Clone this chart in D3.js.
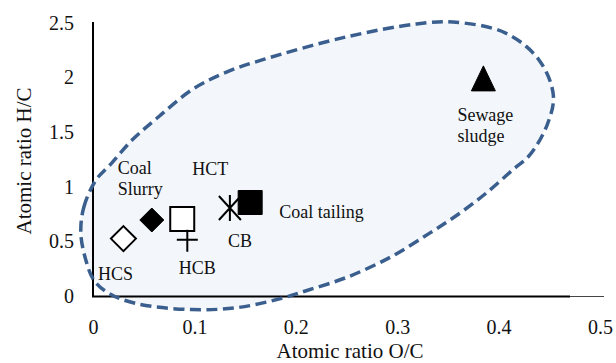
<!DOCTYPE html>
<html>
<head>
<meta charset="utf-8">
<script src="https://cdn.jsdelivr.net/npm/d3@7"></script>
<style>
  html, body { margin: 0; padding: 0; background: #fff; }
  svg { display: block; }
  text { font-family: "Liberation Serif", "Times New Roman", serif; fill: #111; }
</style>
</head>
<body>
<svg id="chart" width="616" height="363"></svg>
<script>
// ---- data ----
const samples = ["HCS", "Coal Slurry", "HCT", "HCB", "CB", "Coal tailing", "Sewage sludge"];
const ocRatio = [0.030, 0.058, 0.088, 0.093, 0.135, 0.155, 0.385];
const hcRatio = [0.52, 0.69, 0.70, 0.50, 0.80, 0.85, 1.98];
const markerKind = ["diamondOpen", "diamondFilled", "squareOpen", "plus", "asterisk", "squareFilled", "triangleFilled"];

const xTicks = [0, 0.1, 0.2, 0.3, 0.4, 0.5];
const yTicks = [0, 0.5, 1, 1.5, 2, 2.5];
const xTitle = "Atomic ratio O/C";
const yTitle = "Atomic ratio H/C";

// dashed grouping outline (estimated, data units)
const outlineOC = [-0.012, -0.009, 0.003, 0.016, 0.039, 0.065, 0.098, 0.131, 0.169, 0.249, 0.319, 0.355, 0.407, 0.440, 0.454, 0.448, 0.431, 0.414, 0.388, 0.362, 0.332, 0.293, 0.250, 0.211, 0.185, 0.143, 0.097, 0.043, 0.016, 0.001, -0.007];
const outlineHC = [0.570, 0.809, 1.057, 1.186, 1.425, 1.636, 1.884, 2.040, 2.160, 2.362, 2.482, 2.500, 2.399, 2.151, 1.829, 1.563, 1.287, 1.149, 0.938, 0.754, 0.570, 0.349, 0.165, 0.046, -0.028, -0.110, -0.129, -0.074, 0.018, 0.138, 0.322];

(function () {
// ---- layout ----
const svg = d3.select("#chart");
const mLeft = 93, mRight = 600, mTop = 22, mBottom = 295.5;
const x = d3.scaleLinear().domain([0, 0.5]).range([mLeft, mRight]);
const y = d3.scaleLinear().domain([0, 2.5]).range([mBottom, mTop]);

// outline ellipse
const outline = outlineOC.map((v, i) => [v, outlineHC[i]]);
const outlineLine = d3.line().x(d => x(d[0])).y(d => y(d[1])).curve(d3.curveCatmullRomClosed.alpha(0.5));
svg.append("path")
  .datum(outline)
  .attr("d", outlineLine)
  .attr("fill", "#f3f7fb")
  .attr("stroke", "none");

// axes lines
svg.append("line").attr("x1", mLeft).attr("x2", mLeft).attr("y1", mTop).attr("y2", mBottom + 1)
  .attr("stroke", "#000").attr("stroke-width", 2);
svg.append("line").attr("x1", mLeft - 1).attr("x2", 570).attr("y1", mBottom + 1).attr("y2", mBottom + 1)
  .attr("stroke", "#000").attr("stroke-width", 2);
svg.append("line").attr("x1", 570).attr("x2", mRight + 4).attr("y1", mBottom + 1).attr("y2", mBottom + 1)
  .attr("stroke", "#444").attr("stroke-width", 1.2);

// dashed outline stroke on top of axes
svg.append("path")
  .datum(outline)
  .attr("d", outlineLine)
  .attr("fill", "none")
  .attr("stroke", "#3a5f8e")
  .attr("stroke-width", 3.5)
  .attr("stroke-dasharray", "11,5.5");

// tick labels via axis generators (no tick marks / domain)
const xAxis = d3.axisBottom(x).tickValues(xTicks).tickSize(0).tickPadding(0).tickFormat(d3.format("~g"));
const gx = svg.append("g").attr("transform", `translate(0,${mBottom})`).call(xAxis);
gx.select(".domain").remove();
gx.selectAll("text").attr("y", 38).attr("dy", null)
  .style("font-family", "Liberation Serif, serif").style("font-size", "20px").attr("fill", "#111");

const yAxis = d3.axisLeft(y).tickValues(yTicks).tickSize(0).tickPadding(0).tickFormat(d3.format("~g"));
const gy = svg.append("g").attr("transform", `translate(${mLeft - 19},0)`).call(yAxis);
gy.select(".domain").remove();
gy.selectAll("text").attr("x", 0).attr("dy", "0.35em")
  .style("font-family", "Liberation Serif, serif").style("font-size", "20px").attr("fill", "#111");

// axis titles
svg.append("text").attr("x", 350).attr("y", 358).attr("text-anchor", "middle")
  .style("font-size", "21px").text(xTitle);
svg.append("text").attr("transform", "translate(31,161) rotate(-90)").attr("text-anchor", "middle")
  .style("font-size", "21px").text(yTitle);

// markers
const shapes = {
  diamondOpen:   { d: "M0,-12.5L12.5,0L0,12.5L-12.5,0Z", fill: "#fff", stroke: "#000", sw: 2 },
  diamondFilled: { d: "M0,-12L12,0L0,12L-12,0Z", fill: "#000", stroke: "#000", sw: 1 },
  squareOpen:    { d: "M-12,-12H12V12H-12Z", fill: "#fff", stroke: "#000", sw: 2 },
  plus:          { d: "M-10.5,-1H10.5M0,-11V11", fill: "none", stroke: "#000", sw: 2 },
  asterisk:      { d: "M-11,-12L11,12M11,-12L-11,12M0,-13V13", fill: "none", stroke: "#000", sw: 2 },
  squareFilled:  { d: "M-12,-12H12V12H-12Z", fill: "#000", stroke: "#000", sw: 1 },
  triangleFilled:{ d: "M0,-13L12,12L-12,12Z", fill: "#000", stroke: "#000", sw: 1 }
};
const pts = samples.map((s, i) => ({ name: s, oc: ocRatio[i], hc: hcRatio[i], kind: markerKind[i] }));
svg.append("g").selectAll("path").data(pts).join("path")
  .attr("transform", d => `translate(${x(d.oc)},${y(d.hc)})`)
  .attr("d", d => shapes[d.kind].d)
  .attr("fill", d => shapes[d.kind].fill)
  .attr("stroke", d => shapes[d.kind].stroke)
  .attr("stroke-width", d => shapes[d.kind].sw);

// point labels: offsets from each point (pixels), with line splits
const labelStyle = {
  "HCS":           { lines: ["HCS"], dx: -8, dy: 41, anchor: "middle" },
  "Coal Slurry":   { lines: ["Coal", "Slurry"], dx: -34, dy: -46, anchor: "start" },
  "HCT":           { lines: ["HCT"], dx: 28, dy: -44, anchor: "middle" },
  "HCB":           { lines: ["HCB"], dx: 10, dy: 33, anchor: "middle" },
  "CB":            { lines: ["CB"], dx: 10, dy: 39, anchor: "middle" },
  "Coal tailing":  { lines: ["Coal tailing"], dx: 29, dy: 15, anchor: "start" },
  "Sewage sludge": { lines: ["Sewage", "sludge"], dx: -26, dy: 42, anchor: "start" }
};
const lg = svg.append("g");
pts.forEach(p => {
  const st = labelStyle[p.name];
  const t = lg.append("text")
    .attr("x", x(p.oc) + st.dx).attr("y", y(p.hc) + st.dy)
    .attr("text-anchor", st.anchor)
    .style("font-size", "18px");
  st.lines.forEach((ln, j) => {
    t.append("tspan").attr("x", x(p.oc) + st.dx).attr("dy", j === 0 ? 0 : 21).text(ln);
  });
});
})();
</script>
</body>
</html>
